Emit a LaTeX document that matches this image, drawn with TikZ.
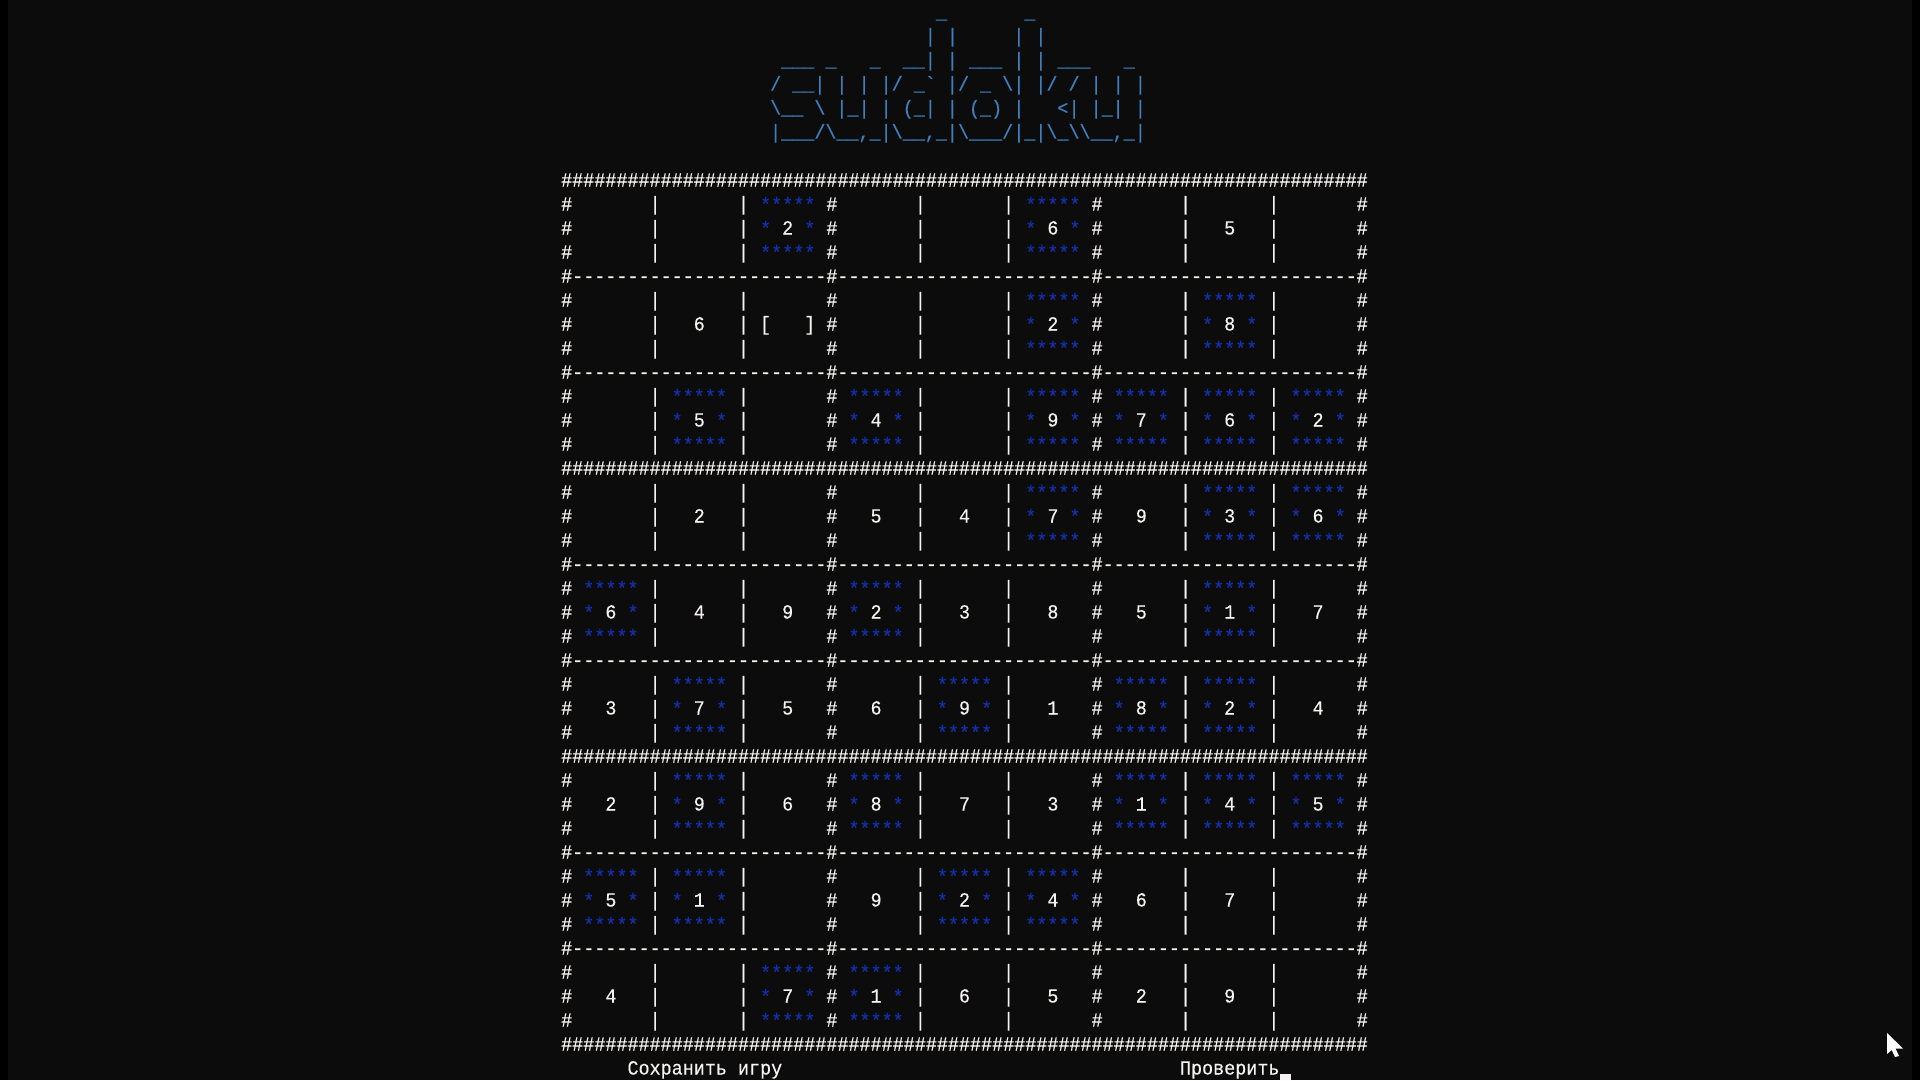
\documentclass[tikz,border=0pt]{standalone}
\usepackage{fontspec}
\newfontfamily\termfam[FakeStretch=0.9208,FakeBold=0.25]{Liberation Mono}
\newcommand{\termfont}{\termfam\fontsize{20}{24}\selectfont}
\newcommand{\bslash}{\textbackslash}
\newcommand{\hb}{\#\#\#\#\#\#\#\#}
\newcommand{\hashline}{\hb\hb\hb\hb\hb\hb\hb\hb\hb\#}
\newcommand{\dd}{-----------------------}
\newcommand{\dashline}{\#\dd\#\dd\#\dd\#}
\definecolor{termbg}{HTML}{0C0C0C}
\definecolor{termfg}{HTML}{F6F4F0}
\definecolor{starblue}{HTML}{1430A8}
\definecolor{titleblue}{HTML}{3F7FBF}
\newcommand{\xo}{566.7}
\newcommand{\cw}{11.05}
\tikzset{
  term/.style={anchor=base,inner sep=0pt,outer sep=0pt,font=\termfont,text=termfg},
  termw/.style={term,anchor=base west},
  star/.style={term,text=starblue},
  art/.style={termw,text=titleblue}
}
\begin{document}
\begin{tikzpicture}[x=1pt,y=-1pt]
\useasboundingbox (0,0) rectangle (1920,1080);
\fill[black] (0,0) rectangle (1920,1080);
\fill[termbg] (8,0) rectangle (1912,1080);
% title
\node[art] (t1) at (759.1,18.5) {~~~~~~~~~~~~~~~~\_~~~~~~~\_};
\node[art] (t2) at (759.1,42.5) {~~~~~~~~~~~~~~~|~|~~~~~|~|};
\node[art] (t3) at (759.1,66.5) {~~\_\_\_~\_~~~\_~~\_\_|~|~\_\_\_~|~|~\_\_\_~~~\_};
\node[art] (t4) at (759.1,90.5) {~/~\_\_|~|~|~|/~\_`~|/~\_~\bslash|~|/~/~|~|~|};
\node[art] (t5) at (759.1,114.5) {~\bslash\_\_~\bslash~|\_|~|~(\_|~|~(\_)~|~~~<|~|\_|~|};
\node[art] (t6) at (759.1,138.5) {~|\_\_\_/\bslash\_\_,\_|\bslash\_\_,\_|\bslash\_\_\_/|\_|\bslash\_\bslash\bslash\_\_,\_|};
% horizontal rules
\foreach \r in {0,...,9}{
  \pgfmathtruncatemacro{\m}{mod(\r,3)}
  \ifnum\m=0
    \node[termw] (rule\r) at ({\xo-\cw/2},{186.5+96*\r}) {\hashline};
  \else
    \node[termw] (rule\r) at ({\xo-\cw/2},{186.5+96*\r}) {\dashline};
  \fi
}
% vertical separators
\foreach \r in {0,...,8}{
  \foreach \l in {1,2,3}{
    \foreach \c in {0,...,9}{
      \pgfmathtruncatemacro{\m}{mod(\c,3)}
      \ifnum\m=0
        \node[term] (sep\r-\l-\c) at ({\xo+\cw*8*\c},{186.5+96*\r+24*\l}) {\#};
      \else
        \node[term] (sep\r-\l-\c) at ({\xo+\cw*8*\c},{186.5+96*\r+24*\l}) {|};
      \fi
    }
  }
}
% cells: 0 empty, d plain, 1d starred, 99 selection
\foreach \r/\vals in {
  0/{0,0,12,0,0,16,0,5,0},
  1/{0,6,99,0,0,12,0,18,0},
  2/{0,15,0,14,0,19,17,16,12},
  3/{0,2,0,5,4,17,9,13,16},
  4/{16,4,9,12,3,8,5,11,7},
  5/{3,17,5,6,19,1,18,12,4},
  6/{2,19,6,18,7,3,11,14,15},
  7/{15,11,0,9,12,14,6,7,0},
  8/{4,0,17,11,6,5,2,9,0}}{
  \foreach \v [count=\c from 0] in \vals {
    \pgfmathsetmacro{\cx}{\xo+\cw*(8*\c+4)}
    \pgfmathsetmacro{\cy}{186.5+96*\r+48}
    \ifnum\v=0\relax
    \else\ifnum\v=99
      \node[term] (cur\r-\c) at (\cx,\cy) {[~~~]};
    \else\ifnum\v>10
      \pgfmathtruncatemacro{\d}{\v-10}
      \node[star] (top\r-\c) at (\cx,\cy-24+0.8) {*****};
      \node[star] (mid\r-\c) at (\cx,\cy+0.8) {*~~~*};
      \node[star] (bot\r-\c) at (\cx,\cy+24+0.8) {*****};
      \node[term] (val\r-\c) at (\cx,\cy) {\d};
    \else
      \node[term] (val\r-\c) at (\cx,\cy) {\v};
    \fi\fi\fi
  }
}
% bottom menu
\node[termw] (save) at (627.5,1074.5) {Сохранить~игру};
\node[termw] (check) at (1180,1074.5) {Проверить};
\fill[termfg] (1280,1074) rectangle (1291,1080);
% mouse pointer
\fill[white] (1887,1033) -- (1887,1054) -- (1891.7,1050) -- (1895,1057) -- (1899,1056) -- (1895.5,1048.5) -- (1903,1048.5) -- cycle;
\end{tikzpicture}
\end{document}
